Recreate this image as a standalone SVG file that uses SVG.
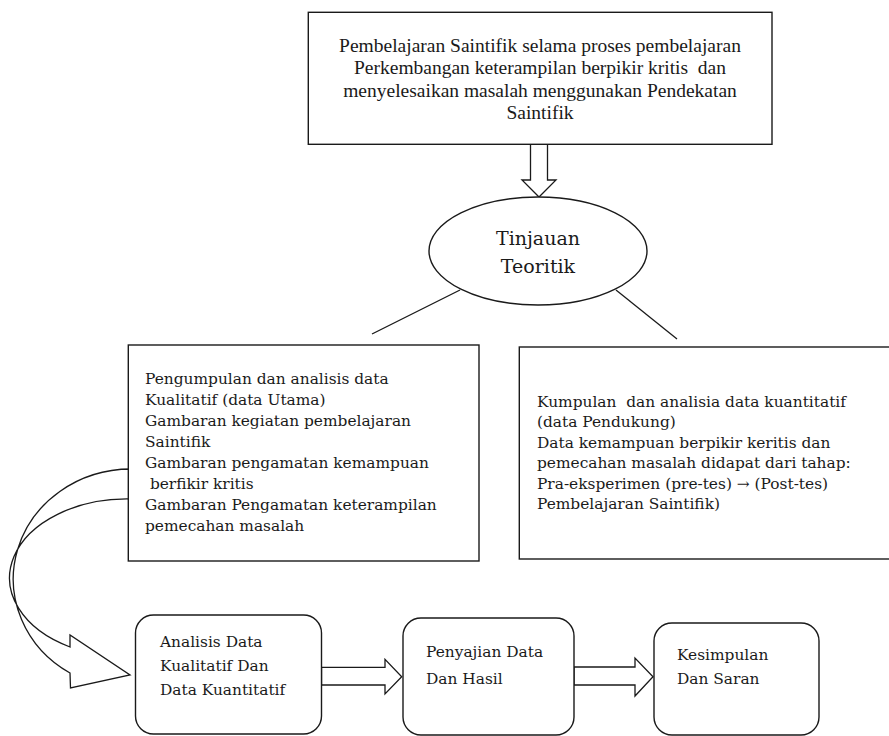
<svg xmlns="http://www.w3.org/2000/svg" width="889" height="736" viewBox="0 0 889 736">
<style>
.box{fill:#fff;stroke:#1a1a1a;stroke-width:1.4}
.ln{fill:none;stroke:#1a1a1a;stroke-width:1.3}
.arr{fill:#fff;stroke:#1a1a1a;stroke-width:1.3;stroke-linejoin:miter}
.tt{font-family:"Liberation Serif","Times New Roman",serif;font-size:19.5px;fill:#1a1a1a;text-anchor:middle;white-space:pre}
.pt{font-family:"DejaVu Serif","Liberation Serif",serif;font-size:15.4px;fill:#1a1a1a;white-space:pre}
.et{font-family:"DejaVu Serif","Liberation Serif",serif;font-size:19px;fill:#1a1a1a;text-anchor:middle}
</style>
<rect width="889" height="736" fill="#fff"/>
<g id="connectors">
<path class="arr" d="M530.5,144 L530.5,180 L522,180 L539,197 L556,180 L547.5,180 L547.5,144 Z"/>
<line class="ln" x1="460" y1="290" x2="372" y2="334"/>
<line class="ln" x1="616" y1="290" x2="677" y2="339"/>
<path class="ln" d="M131,469 A118,110 0 0 0 70,673 L70.5,688 L130,675 L70,635 L70,647 A117.5,79 0 0 1 131,499 Z"/>
<path class="arr" d="M321.5,667.3 L385,667.3 L385,659.3 L401.7,676.7 L385,694 L385,685 L321.5,685 Z"/>
<path class="arr" d="M574,667 L635,667 L635,658 L653,676.7 L635,696 L635,685 L574,685 Z"/>
</g>
<g id="node-top">
<rect class="box" x="308.3" y="12.3" width="463.7" height="132"/>
<text class="tt" x="540" y="52">Pembelajaran Saintifik selama proses pembelajaran</text>
<text class="tt" x="540" y="74">Perkembangan keterampilan berpikir kritis  dan</text>
<text class="tt" x="540" y="97">menyelesaikan masalah menggunakan Pendekatan</text>
<text class="tt" x="540" y="119">Saintifik</text>
</g>
<g id="node-tinjauan">
<ellipse class="box" cx="538" cy="251" rx="109" ry="54"/>
<text class="et" x="538" y="245">Tinjauan</text>
<text class="et" x="538" y="273">Teoritik</text>
</g>
<g id="node-kualitatif">
<rect class="box" x="128.3" y="345" width="350.7" height="216"/>
<text class="pt" x="145" y="384">Pengumpulan dan analisis data</text>
<text class="pt" x="145" y="405">Kualitatif (data Utama)</text>
<text class="pt" x="145" y="426">Gambaran kegiatan pembelajaran</text>
<text class="pt" x="145" y="447">Saintifik</text>
<text class="pt" x="145" y="468">Gambaran pengamatan kemampuan</text>
<text class="pt" x="145" y="489"> berfikir kritis</text>
<text class="pt" x="145" y="510">Gambaran Pengamatan keterampilan</text>
<text class="pt" x="145" y="531">pemecahan masalah</text>
</g>
<g id="node-kuantitatif">
<rect class="box" x="519.3" y="347" width="375" height="212"/>
<text class="pt" x="537" y="407">Kumpulan  dan analisia data kuantitatif</text>
<text class="pt" x="537" y="427">(data Pendukung)</text>
<text class="pt" x="537" y="448">Data kemampuan berpikir keritis dan</text>
<text class="pt" x="537" y="468">pemecahan masalah didapat dari tahap:</text>
<text class="pt" x="537" y="489">Pra-eksperimen (pre-tes) → (Post-tes)</text>
<text class="pt" x="537" y="509">Pembelajaran Saintifik)</text>
</g>
<g id="node-analisis">
<rect class="box" x="135.5" y="615" width="186" height="119" rx="18" ry="18"/>
<text class="pt" x="160" y="647">Analisis Data</text>
<text class="pt" x="160" y="671">Kualitatif Dan</text>
<text class="pt" x="160" y="695">Data Kuantitatif</text>
</g>
<g id="node-penyajian">
<rect class="box" x="403" y="618" width="171" height="117" rx="18" ry="18"/>
<text class="pt" x="426" y="657">Penyajian Data</text>
<text class="pt" x="426" y="684">Dan Hasil</text>
</g>
<g id="node-kesimpulan">
<rect class="box" x="654" y="623" width="165" height="112" rx="18" ry="18"/>
<text class="pt" x="677" y="660">Kesimpulan</text>
<text class="pt" x="677" y="684">Dan Saran</text>
</g>
</svg>
